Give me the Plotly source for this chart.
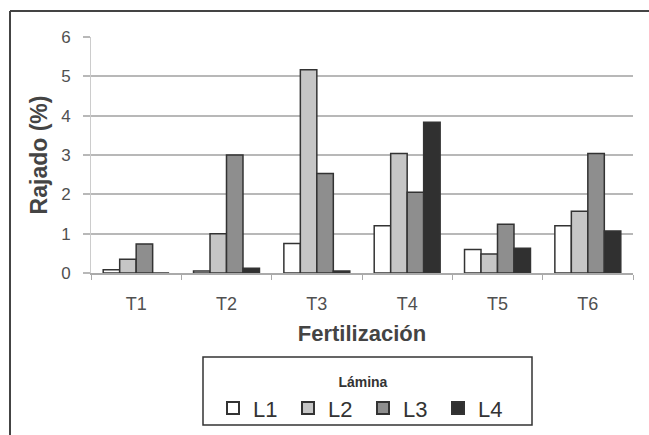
import plotly.graph_objects as go

# Fertilization treatments and the four irrigation levels (Lámina)
treatments = ["T1", "T2", "T3", "T4", "T5", "T6"]
series_names = ["L1", "L2", "L3", "L4"]
L1 = [0.08, 0.05, 0.75, 1.20, 0.60, 1.20]
L2 = [0.35, 1.00, 5.17, 3.04, 0.48, 1.57]
L3 = [0.74, 3.00, 2.53, 2.05, 1.24, 3.04]
L4 = [0.00, 0.12, 0.05, 3.83, 0.63, 1.07]
y_ticks = [0, 1, 2, 3, 4, 5, 6]

values = [L1, L2, L3, L4]
fills = ["#ffffff", "#c6c6c6", "#8e8e8e", "#303030"]

FONT = "Liberation Sans, Arial, sans-serif"

fig = go.Figure()
for name, vals, col in zip(series_names, values, fills):
    fig.add_trace(go.Bar(
        x=treatments, y=vals, name=name,
        marker=dict(color=col, line=dict(color="#333333", width=1.5)),
    ))

# Plot area geometry in pixels (used for paper-coordinate shapes)
L, R, T, B = 91, 16, 37, 162
W, H = 649, 435
pw, ph = W - L - R, H - T - B


def px_x(x):
    return (x - L) / pw


def px_y(y):
    return (H - B - y) / ph


shapes = [
    # outer frame (left and top edges)
    dict(type="line", xref="paper", yref="paper",
         x0=px_x(10), x1=px_x(660), y0=px_y(11), y1=px_y(11),
         line=dict(color="#444444", width=2)),
    dict(type="line", xref="paper", yref="paper",
         x0=px_x(10), x1=px_x(10), y0=px_y(11), y1=px_y(445),
         line=dict(color="#444444", width=2)),
    # legend box
    dict(type="rect", xref="paper", yref="paper",
         x0=px_x(203), x1=px_x(532), y0=px_y(425), y1=px_y(357),
         line=dict(color="#333333", width=1.5), fillcolor="rgba(0,0,0,0)"),
]

fig.update_layout(
    width=W, height=H,
    margin=dict(l=L, r=R, t=T, b=B, autoexpand=False),
    paper_bgcolor="white", plot_bgcolor="white",
    font=dict(family=FONT, color="#505050"),
    barmode="group", bargap=0.27, bargroupgap=0,
    showlegend=True,
    legend=dict(
        orientation="h",
        x=px_x(363), xanchor="center",
        y=px_y(369), yanchor="top",
        bgcolor="rgba(0,0,0,0)",
        font=dict(size=22, color="#333333", family=FONT),
        title=dict(text="<b>Lámina</b>", side="top center",
                   font=dict(size=14, color="#333333", family=FONT)),
        entrywidth=30, entrywidthmode="pixels",
        itemsizing="constant",
        tracegroupgap=0,
    ),
    shapes=shapes,
    xaxis=dict(
        type="category",
        automargin=False,
        tickson="boundaries",
        ticks="outside", ticklen=5, tickcolor="#aaaaaa",
        showline=True, linecolor="#aaaaaa", linewidth=1.5,
        showgrid=False,
        ticklabelstandoff=14,
        tickfont=dict(size=18, color="#505050"),
        title=dict(text="<b>Fertilización</b>", standoff=12,
                   font=dict(size=22, color="#444444")),
    ),
    yaxis=dict(
        range=[0, 6], tickvals=y_ticks,
        automargin=False,
        showgrid=True, gridcolor="#b8b8b8", gridwidth=1.8,
        showline=True, linecolor="#cccccc", linewidth=1,
        ticks="outside", ticklen=7, tickcolor="#b8b8b8", tickwidth=1.5,
        ticklabelstandoff=9,
        zeroline=False,
        tickfont=dict(size=17, color="#505050"),
        title=dict(text="<b>Rajado (%)</b>", standoff=7,
                   font=dict(size=23, color="#444444")),
    ),
)

fig.write_html("out.html")
